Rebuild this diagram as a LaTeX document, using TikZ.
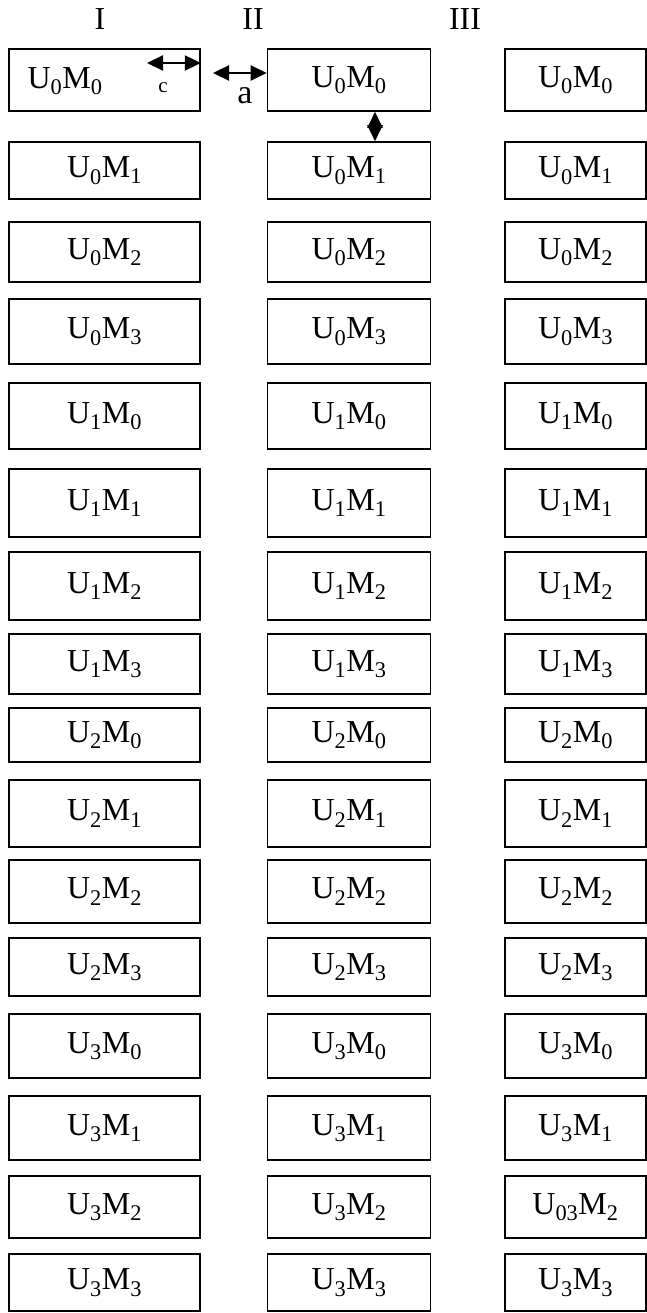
\documentclass[tikz,border=0pt]{standalone}
\usepackage{fontspec}
\setmainfont{Liberation Serif}
\usetikzlibrary{arrows.meta}
\newcommand\UMlab[2]{U\textsubscript{#1}M\textsubscript{#2}}
\begin{document}
\begin{tikzpicture}[x=1pt,y=-1pt,
  box/.style={draw,line width=1.6pt,inner sep=0pt,font=\fontsize{32}{36}\selectfont},
  lbl/.style={inner sep=0pt,font=\fontsize{32}{36}\selectfont},
  dbl/.style={{Triangle[length=16pt,width=15pt]}-{Triangle[length=16pt,width=15pt]},line width=2.2pt}]
\useasboundingbox (0,0) rectangle (646,1313);
% column headers
\node[lbl] (hI) at (100,19) {I};
\node[lbl] (hII) at (253,19) {II};
\node[lbl] (hIII) at (465,19) {III};
% boxes
\foreach \r/\t/\b in {1/49/111,2/142/199,3/222/282,4/299/364,5/383/449,6/469/537,7/552/620,8/634/694,9/708/762,10/780/847,11/860/923,12/938/996,13/1014/1078,14/1096/1160,15/1176/1238,16/1254/1311}{
  \pgfmathtruncatemacro{\u}{(\r-1)/4}
  \pgfmathtruncatemacro{\m}{mod(\r-1,4)}
  \pgfmathsetmacro{\yc}{(\t+\b)/2}
  \pgfmathsetmacro{\hh}{\b-\t}
  \ifnum\r=1
    \node[box,minimum width=191pt,minimum height=\hh pt] (b\r-1) at (104.5,\yc) {};
  \else
    \node[box,minimum width=191pt,minimum height=\hh pt] (b\r-1) at (104.5,\yc) {\UMlab{\u}{\m}};
  \fi
  \node[box,minimum width=163pt,minimum height=\hh pt] (b\r-2) at (349,\yc) {\UMlab{\u}{\m}};
  \ifnum\r=15
    \node[box,minimum width=141pt,minimum height=\hh pt] (b\r-3) at (575.5,\yc) {\UMlab{03}{\m}};
  \else
    \node[box,minimum width=141pt,minimum height=\hh pt] (b\r-3) at (575.5,\yc) {\UMlab{\u}{\m}};
  \fi
}
% first box text (left aligned)
\node[box,draw=none] (t1-1) at (65,81) {\UMlab{0}{0}};
% arrow c inside first box
\coordinate (cs) at (147,63);
\draw[dbl] (cs) -- (b1-1.east |- cs);
\node[inner sep=0pt,font=\fontsize{21}{24}\selectfont] (lc) at (163,88) {c};
% arrow a between columns I and II
\coordinate (as) at (213,73);
\draw[dbl] (as) -- (b1-2.west |- as);
\node[inner sep=0pt,font=\fontsize{34}{38}\selectfont] (la) at (245,96) {a};
% vertical arrow between U0M0 and U0M1 of column II
\draw[dbl] ([xshift=26pt]b1-2.south) -- ([xshift=26pt]b2-2.north);
\end{tikzpicture}
\end{document}
